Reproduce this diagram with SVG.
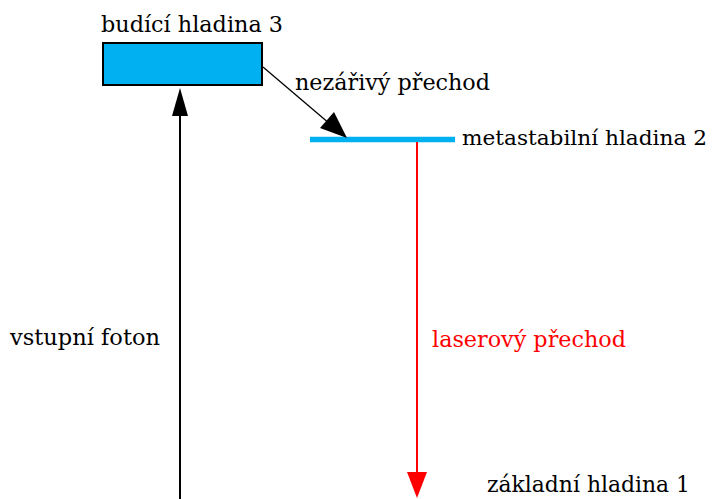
<svg xmlns="http://www.w3.org/2000/svg" width="714" height="499" viewBox="0 0 714 499">
<style>
text{font-family:"DejaVu Serif",serif;font-size:23px;fill:#000}
.red{fill:#ff0000}
</style>
<rect width="714" height="499" fill="#fff"/>
<g id="level3">
<rect x="103" y="43" width="159" height="42" fill="#00b0f0" stroke="#000" stroke-width="2"/>
<text x="101" y="32" textLength="182" lengthAdjust="spacingAndGlyphs">budící hladina 3</text>
</g>
<g id="level2">
<line x1="310" y1="139.5" x2="455" y2="139.5" stroke="#00b0f0" stroke-width="5.5"/>
<text x="462" y="145" style="font-size:21px" textLength="245" lengthAdjust="spacingAndGlyphs">metastabilní hladina 2</text>
</g>
<g id="level1">
<text x="487" y="492" textLength="203" lengthAdjust="spacingAndGlyphs">základní hladina 1</text>
</g>
<g id="connectors">
<line x1="263" y1="67" x2="330" y2="124" stroke="#000" stroke-width="1.3"/>
<polygon points="347,138 320,128 334,112" fill="#000"/>
<text x="295" y="90" textLength="195" lengthAdjust="spacingAndGlyphs">nezářivý přechod</text>
<line x1="180" y1="499" x2="180" y2="110" stroke="#000" stroke-width="2"/>
<polygon points="180,88 172,116 188,116" fill="#000"/>
<text x="10" y="345" textLength="150" lengthAdjust="spacingAndGlyphs">vstupní foton</text>
<line x1="417" y1="142" x2="417" y2="476" stroke="#ff0000" stroke-width="2"/>
<polygon points="417,498 407,472 427,472" fill="#ff0000"/>
<text x="432" y="347" class="red" textLength="194" lengthAdjust="spacingAndGlyphs">laserový přechod</text>
</g>
</svg>
